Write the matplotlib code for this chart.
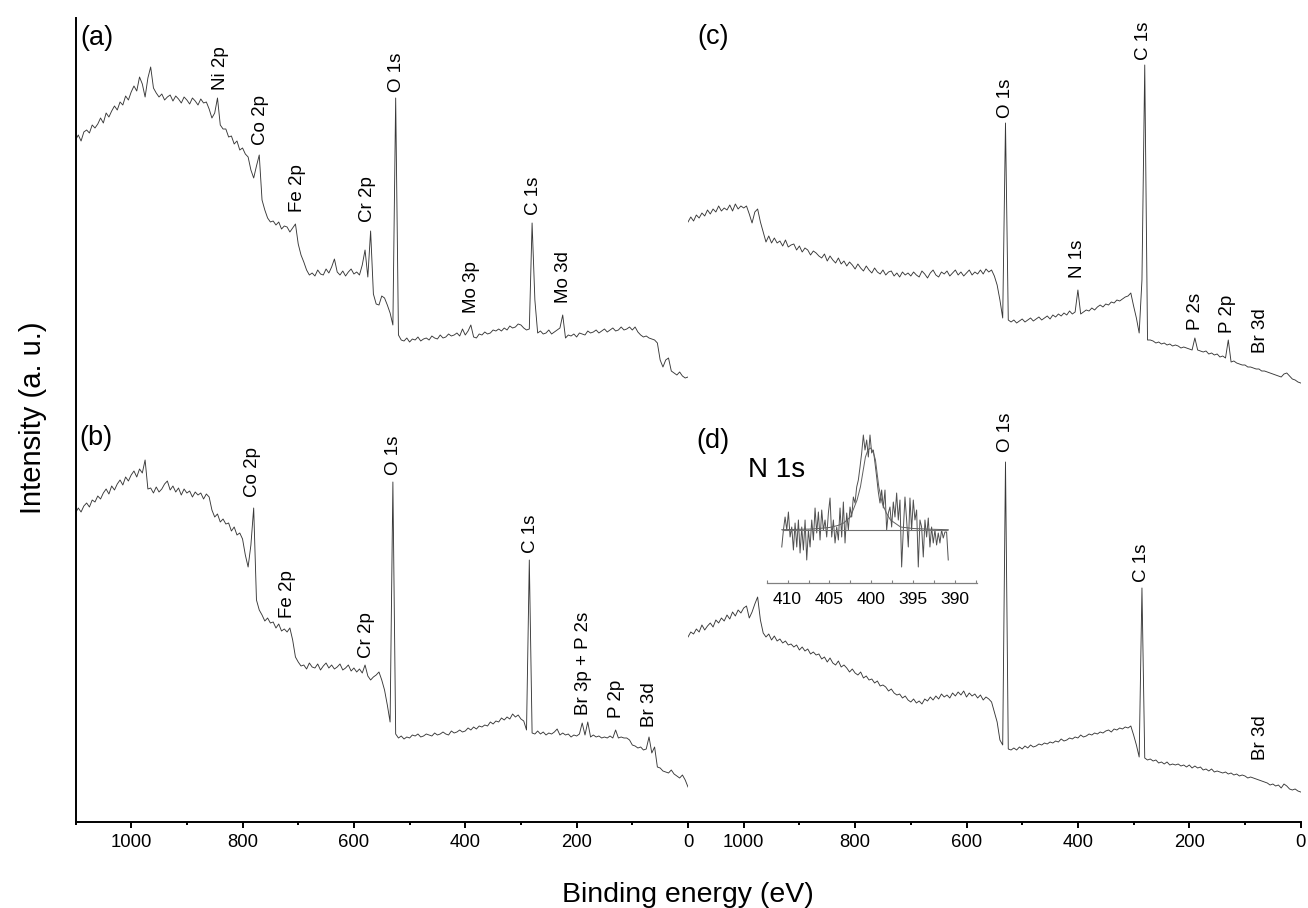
import numpy as np
import matplotlib
matplotlib.use('Agg')
import matplotlib.pyplot as plt
from matplotlib.ticker import FixedLocator, MultipleLocator

plt.rcParams['font.family'] = ['Liberation Sans', 'DejaVu Sans']

# ---------------- data (binding energy grid, 5 eV steps, 1100 -> 0 eV) ----------------
energy = np.arange(1100, -1, -5)

a_counts = [282, 287, 281, 290, 292, 289, 297, 294, 298, 304, 299, 309, 305, 311, 316, 312, 320, 317, 326, 322,
            330, 336, 331, 345, 338, 325, 344, 355, 334, 329, 325,
            328, 322, 325, 327, 321, 326, 323, 319, 325, 322, 318, 324, 321, 317, 323, 319, 320,
            313, 304, 309, 324, 297, 293, 293, 285, 286, 278, 281, 272, 274, 268, 265, 252, 244, 256, 267, 222,
            212, 204, 200, 201, 197, 200, 193, 196, 195, 190, 194, 198,
            178, 167, 160, 152, 147, 149, 146, 152, 148, 147, 153, 149, 155, 163, 150, 147, 151, 146, 150, 153,
            148, 150, 147, 157, 172, 145, 191, 128, 118, 117, 126, 124, 117, 109, 97, 324,
            87, 82, 81, 84, 80, 83, 82, 85, 81, 83, 84, 82, 86, 84, 83, 87, 84, 85, 88, 86, 87, 89, 86, 93, 87,
            91, 97, 85, 84, 88, 87, 90, 88, 89, 92, 91, 93, 91, 94, 92, 96, 94, 95, 98, 97, 94, 92, 93, 199, 122,
            89, 91, 88, 89, 92, 88, 90, 92, 94, 107, 84, 87, 86, 88, 85, 89, 88, 87, 91, 89, 90, 92, 89, 91, 93,
            90, 92, 94, 91, 92, 95, 92, 93, 95, 92, 95, 90, 87, 85, 86, 84, 83, 82, 79, 62, 55, 62, 64, 51, 49,
            47, 50, 46, 44, 45]

b_counts = [309, 314, 310, 316, 319, 315, 322, 320, 326, 323, 329, 333, 328, 336, 332, 338, 342, 337, 345, 341,
            347, 351, 345, 353, 349, 362, 333, 334, 329, 335, 330,
            333, 338, 341, 332, 336, 330, 334, 327, 333, 329, 331, 325, 330, 327, 329, 323, 328,
            325, 312, 305, 308, 300, 303, 298, 299, 291, 295, 287, 289, 283, 267, 255, 277, 314, 222, 212, 207,
            201, 204, 199, 200, 194, 198, 191, 193, 190, 194, 182, 165,
            160, 156, 157, 153, 159, 155, 154, 158, 152, 156, 159, 154, 157, 153, 155, 158, 152, 154, 157, 151,
            154, 150, 153, 149, 157, 146, 142, 145, 147, 150, 142, 132, 117, 100, 340, 88,
            84, 86, 83, 85, 84, 87, 86, 88, 85, 86, 88, 87, 86, 89, 87, 88, 90, 88, 87, 91, 89, 90, 92, 90, 91,
            94, 92, 95, 93, 96, 95, 97, 96, 100, 98, 101, 100, 104, 102, 105, 103, 108, 105, 107, 103, 101, 92,
            262, 89, 88,
            91, 88, 90, 87, 89, 88, 90, 93, 87, 89, 87, 88, 85, 87, 86, 88, 99, 87, 100, 85, 87, 85, 86, 84, 85,
            84, 86, 84, 92, 84, 85, 84, 84, 82, 77, 76, 74, 75, 72, 73, 85, 69, 75, 55, 54, 51, 50, 49, 52, 48,
            46, 44, 47, 42, 35]

c_counts = [200, 205, 201, 207, 204, 209, 206, 212, 208, 213, 210, 216, 211, 214, 212, 217, 211, 218, 213, 216,
            214, 216, 208, 199, 210, 213, 200, 190, 180, 186, 179,
            184, 179, 181, 176, 182, 175, 177, 178, 172, 176, 170, 174, 172, 167, 171, 169, 166,
            164, 168, 161, 166, 162, 159, 164, 158, 161, 156, 160, 157, 153, 158, 154, 151, 156, 152, 149, 154,
            150, 148, 152, 147, 150, 151, 146, 149, 145, 150, 147, 149,
            146, 150, 147, 145, 151, 148, 144, 149, 152, 147, 145, 150, 148, 151, 146, 149, 152, 147, 150, 146,
            149, 152, 147, 150, 148, 152, 148, 153, 150, 152, 146, 137, 122, 104, 299, 102,
            100, 102, 99, 101, 103, 100, 102, 104, 101, 103, 105, 102, 104, 106, 103, 107, 105, 108, 106, 109,
            107, 111, 108, 110, 132, 108, 110, 112, 111, 114, 112, 115, 117, 115, 118, 117, 120, 119, 122, 121,
            123, 125, 126, 129, 116, 104, 89, 142, 357, 82,
            82, 81, 79, 80, 78, 79, 77, 78, 76, 77, 76, 74, 75, 74, 73, 72, 84, 72, 71, 70, 71, 68, 69, 67, 68,
            65, 66, 64, 82, 60, 61, 59, 58, 57, 57, 55, 55, 54, 53, 53, 51, 51, 50, 49, 48, 47, 46, 45, 48, 49,
            46, 43, 42, 40, 39]

d_counts = [185, 190, 188, 193, 190, 197, 192, 196, 199, 195, 202, 199, 204, 201, 207, 203, 210, 206, 212, 209,
            214, 216, 204, 210, 218, 225, 202, 189, 185, 188, 182,
            186, 181, 183, 179, 181, 177, 178, 175, 177, 172, 175, 171, 173, 168, 170, 167, 168,
            163, 165, 160, 164, 159, 157, 161, 155, 157, 154, 150, 153, 149, 147, 150, 144, 146, 142, 143, 139,
            141, 136, 137, 135, 131, 133, 129, 127, 128, 124, 126, 122,
            120, 123, 119, 121, 118, 123, 121, 125, 122, 126, 123, 128, 125, 127, 124, 129, 126, 130, 127, 131,
            125, 129, 126, 128, 124, 127, 122, 125, 123, 120, 110, 100, 82, 77, 360, 73,
            72, 74, 72, 75, 73, 76, 74, 77, 75, 76, 78, 77, 79, 78, 80, 79, 81, 80, 83, 81, 82, 84, 83, 85, 84,
            87, 85, 86, 88, 87, 89, 88, 90, 89, 91, 92, 90, 93, 92, 94, 93, 95, 94, 96, 87, 77, 65, 234, 64, 62,
            63, 61, 62, 59, 60, 58, 60, 57, 58, 57, 58, 56, 57, 55, 57, 54, 56, 54, 55, 52, 53, 51, 53, 50, 51,
            50, 49, 50, 48, 49, 47, 48, 46, 47, 46, 44, 45, 44, 43, 42, 41, 40, 39, 37, 38, 36, 37, 34, 38, 36,
            33, 32, 33, 31, 30]

for name, arr in (('a', a_counts), ('b', b_counts), ('c', c_counts), ('d', d_counts)):
    assert len(arr) == len(energy), (name, len(arr))

# N 1s high-resolution inset
inset_energy = np.linspace(410.7, 390.8, 101)
inset_counts = [53, 70, 83, 70, 88, 63, 73, 50, 77, 53,
                80, 47, 73, 50, 80, 40, 70, 53, 80, 60,
                92, 67, 88, 60, 90, 70, 80, 63, 87, 102,
                63, 80, 57, 73, 60, 92, 63, 98, 57, 87,
                70, 93, 83, 103, 97, 113, 120, 133, 147, 165,
                150, 160, 143, 165, 147, 150, 137, 123, 108, 97,
                110, 92, 110, 70, 87, 93, 73, 98, 83, 107,
                80, 100, 33, 70, 103, 80, 53, 102, 70, 100,
                80, 90, 33, 80, 73, 43, 80, 63, 82, 53,
                73, 57, 70, 55, 67, 57, 70, 62, 68, 68,
                40]
fit_energy = [410.7, 407.0, 405.0, 404.0, 403.3, 402.5, 401.7, 401.3, 400.7, 400.4, 400.1,
              399.8, 399.5, 399.1, 398.7, 398.2, 397.7, 396.5, 395.0, 393.0, 390.8]
fit_counts = [70.3, 71.0, 72.5, 74.5, 77.0, 83.0, 100, 113, 143, 150, 152,
              149, 140, 113, 97, 87, 80, 73, 71.5, 70.8, 70.3]
inset_baseline = 70

# peak labels: (text, energy, label base height)
labels_a = [("Ni 2p", 840, 732), ("Co 2p", 767, 677), ("Fe 2p", 702, 610), ("Cr 2p", 575, 600),
            ("O 1s", 523, 730), ("Mo 3p", 388, 509), ("C 1s", 278, 607), ("Mo 3d", 223, 519)]
labels_b = [("Co 2p", 782, 325), ("Fe 2p", 720, 204), ("Cr 2p", 577, 164), ("O 1s", 529, 347),
            ("C 1s", 283, 269), ("Br 3p + P 2s", 188, 107), ("P 2p", 128, 104), ("Br 3d", 69, 95)]
labels_c = [("O 1s", 530, 704), ("N 1s", 401, 544), ("C 1s", 282, 762), ("P 2s", 188, 492),
            ("P 2p", 131, 489), ("Br 3d", 72, 469)]
labels_d = [("O 1s", 530, 370), ("C 1s", 286, 240), ("Br 3d", 72, 62)]

# ---------------- figure ----------------
W, H = 1308, 908
fig = plt.figure(figsize=(W / 100, H / 100), dpi=100)
LINE = '#383838'

axL = fig.add_axes([75.5 / W, 86 / H, (688 - 75.5) / W, 804 / H])
axR = fig.add_axes([688 / W, 86 / H, (1300.7 - 688) / W, 804 / H])
for ax in (axL, axR):
    ax.set_xlim(1100, 0)
    ax.set_ylim(0, 804)
    ax.patch.set_alpha(0)
    for s in ('top', 'right'):
        ax.spines[s].set_visible(False)
    ax.spines['bottom'].set_linewidth(1.4)
    ax.set_yticks([])
    ax.xaxis.set_major_locator(FixedLocator([1000, 800, 600, 400, 200, 0]))
    ax.xaxis.set_minor_locator(FixedLocator([1100, 900, 700, 500, 300, 100]))
    ax.tick_params(axis='x', which='major', direction='out', length=4.0, width=1.4,
                   labelsize=13.3, pad=4.5)
    ax.tick_params(axis='x', which='minor', direction='out', length=2.3, width=1.4)
axL.spines['left'].set_linewidth(1.4)
axR.spines['left'].set_visible(False)

offset_top = 400
axL.plot(energy, np.asarray(a_counts) + offset_top, color=LINE, lw=0.65)
axL.plot(energy, np.asarray(b_counts), color=LINE, lw=0.65)
axR.plot(energy, np.asarray(c_counts) + offset_top, color=LINE, lw=0.65)
axR.plot(energy, np.asarray(d_counts), color=LINE, lw=0.65)

for ax, labs in ((axL, labels_a), (axL, labels_b), (axR, labels_c), (axR, labels_d)):
    for txt, e, yv in labs:
        ax.text(e, yv, txt, rotation=90, ha='center', va='bottom', fontsize=13.5)

# inset
axI = fig.add_axes([766.7 / W, (H - 583.3) / H, 210 / W, 153.3 / H])
axI.patch.set_alpha(0)
axI.set_xlim(412.5, 387.4)
axI.set_ylim(16.7, 170)
for s in ('top', 'right', 'left'):
    axI.spines[s].set_visible(False)
axI.spines['bottom'].set_color('#808080')
axI.spines['bottom'].set_linewidth(0.9)
axI.set_yticks([])
axI.xaxis.set_major_locator(FixedLocator([410, 405, 400, 395, 390]))
axI.xaxis.set_minor_locator(MultipleLocator(2.5))
axI.tick_params(axis='x', which='both', direction='in', length=2.5, width=0.8, color='#808080',
                labelsize=12.5, pad=6.5)
axI.plot(inset_energy, inset_counts, color='#505050', lw=0.7)
axI.plot(fit_energy, fit_counts, color='#606060', lw=0.7)
axI.hlines(inset_baseline, inset_energy[0], inset_energy[-1], color='#707070', lw=0.8)

# texts
fig.text(777 / W, 1 - 470 / H, 'N 1s', fontsize=20, ha='center', va='center')
for lab, px, py in (('(a)', 96.5, 38), ('(b)', 96, 438), ('(c)', 713, 37), ('(d)', 713, 441)):
    fig.text(px / W, 1 - py / H, lab, fontsize=19.5, ha='center', va='center')
fig.text(688 / W, 1 - 902 / H, 'Binding energy (eV)', fontsize=20.5, ha='center', va='baseline')
fig.text(33 / W, 1 - 418 / H, 'Intensity (a. u.)', fontsize=21, rotation=90, ha='center', va='center')

fig.savefig('out.png', dpi=100)
